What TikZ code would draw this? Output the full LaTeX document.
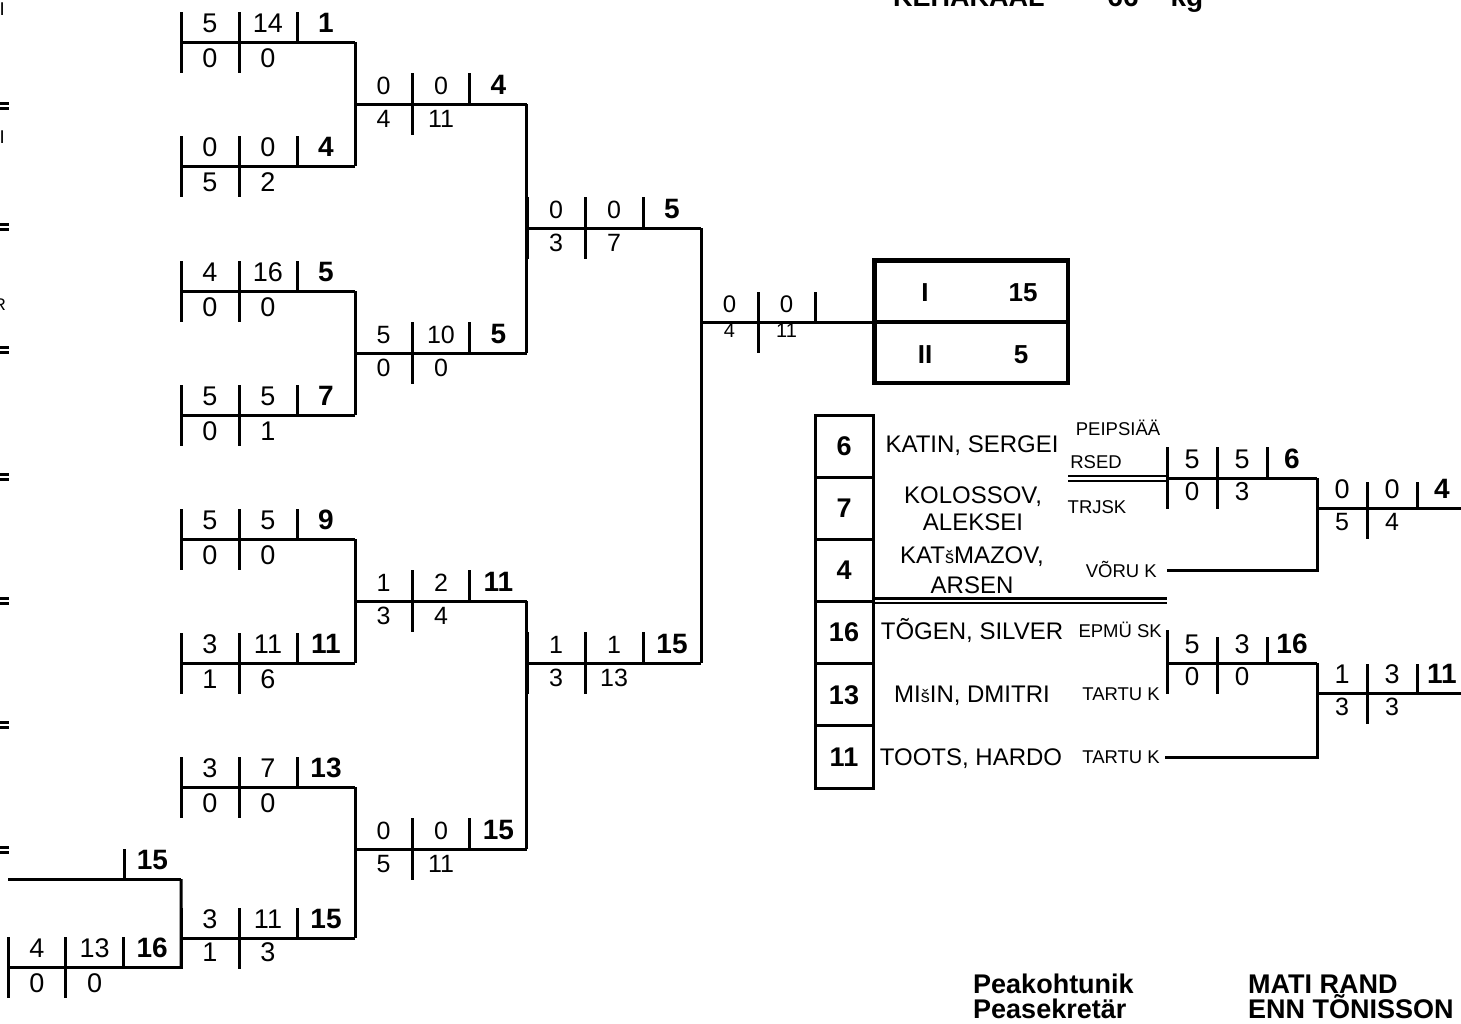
\documentclass[tikz,border=0pt]{standalone}
\usepackage{fontspec}
\setmainfont{Liberation Sans}
\def\ScSize{24}\def\LowSize{24}\def\LowOff{25}\def\TickUp{30}
\newcommand{\ScoreBox}[9]{%
  \coordinate (#1L) at (#2,#3);
  \coordinate (#1R) at ({#2+3*#4},#3);
  \draw[ln] (#1L) -- (#1R);
  \draw[ln] (#2,{#3-\TickUp}) -- (#2,{#3+31});
  \draw[ln] ({#2+#4},{#3-\TickUp}) -- ({#2+#4},{#3+31});
  \draw[ln] ({#2+2*#4},{#3-\TickUp}) -- ({#2+2*#4},#3);
  \node[sc] (#1a) at ({#2+0.5*#4},{#3-10}) {#5};
  \node[sc] (#1b) at ({#2+1.5*#4},{#3-10}) {#6};
  \node[sd] (#1s) at ({#2+2.5*#4},{#3-10}) {#7};
  \node[sl] (#1c) at ({#2+0.5*#4},{#3+\LowOff}) {#8};
  \node[sl] (#1d) at ({#2+1.5*#4},{#3+\LowOff}) {#9};
}
\tikzset{
  ln/.style={line width=3pt},
  dbl/.style={line width=2.2pt},
  sc/.style={font=\fontsize{\ScSize}{\ScSize}\selectfont, anchor=base, inner sep=0pt},
  sl/.style={font=\fontsize{\LowSize}{\LowSize}\selectfont, anchor=base, inner sep=0pt},
  sd/.style={font=\bfseries\fontsize{28}{28}\selectfont, anchor=base, inner sep=0pt},
  nm/.style={font=\fontsize{24}{24}\selectfont, anchor=base, inner sep=0pt},
  cl/.style={font=\fontsize{18.5}{18.5}\selectfont, anchor=base, inner sep=0pt},
  seedcell/.style={draw, line width=3pt, minimum width=58pt, minimum height=62.17pt, inner sep=0pt, font=\bfseries\fontsize{27}{27}\selectfont},
  fin/.style={font=\bfseries\fontsize{26}{26}\selectfont, anchor=base, inner sep=0pt},
  hd/.style={font=\bfseries\fontsize{27}{27}\selectfont, anchor=base west, inner sep=0pt},
}
\begin{document}
\begin{tikzpicture}[x=1pt,y=-1pt]
\useasboundingbox (0,0) rectangle (1461,1023);
\fill[white] (0,0) rectangle (1461,1023);

% header (cut off at top)
\node[hd] (kh) at (893,6) {KEHAKAAL};
\node[sd] (kn) at (1123,6) {66};
\node[sd] (kg) at (1187,6) {kg};

% left edge fragments
\foreach \yy in {106,227,350,477,601,725,850}{
  \draw[dbl] (0,\yy-2.5) -- (9,\yy-2.5);
  \draw[dbl] (0,\yy+2.5) -- (9,\yy+2.5);
}
\node[cl, anchor=base east] (f1) at (5,15) {I};
\node[cl, anchor=base east] (f2) at (5,143) {I};
\node[cl, anchor=base east, font=\fontsize{17}{17}\selectfont] (f3) at (6,310) {R};

% column A
\def\ScSize{27}\def\LowSize{27}\def\LowOff{25}\def\TickUp{30}
\ScoreBox{A1}{181}{42}{58}{5}{14}{1}{0}{0}
\ScoreBox{A2}{181}{166}{58}{0}{0}{4}{5}{2}
\ScoreBox{A3}{181}{291}{58}{4}{16}{5}{0}{0}
\ScoreBox{A4}{181}{415}{58}{5}{5}{7}{0}{1}
\ScoreBox{A5}{181}{539}{58}{5}{5}{9}{0}{0}
\ScoreBox{A6}{181}{663}{58}{3}{11}{11}{1}{6}
\ScoreBox{A7}{181}{787}{58}{3}{7}{13}{0}{0}
\ScoreBox{P2}{8}{967}{57.7}{4}{13}{16}{0}{0}
\def\LowOff{23}
\ScoreBox{A8}{181}{938}{58}{3}{11}{15}{1}{3}

% partial line with seed 15
\coordinate (P1L) at (8,879);
\coordinate (P1R) at (181,879);
\draw[ln] (P1L) -- (P1R);
\draw[ln] (124,849) -- (124,879);
\node[sd] (P1s) at (152.5,869) {15};

\draw[ln] (P1R) -- (P2R);
\draw[ln] (A1R) -- (A2R);
\draw[ln] (A3R) -- (A4R);
\draw[ln] (A5R) -- (A6R);
\draw[ln] (A7R) -- (A8R);

% column B
\def\ScSize{25}\def\LowSize{25}\def\LowOff{23}\def\TickUp{31}
\ScoreBox{B1}{355}{104}{57.33}{0}{0}{4}{4}{11}
\ScoreBox{B2}{355}{353}{57.33}{5}{10}{5}{0}{0}
\ScoreBox{B3}{355}{601}{57.33}{1}{2}{11}{3}{4}
\ScoreBox{B4}{355}{849}{57.33}{0}{0}{15}{5}{11}
\draw[ln] (B1R) -- (B2R);
\draw[ln] (B3R) -- (B4R);

% column C
\ScoreBox{C1}{527}{228}{58}{0}{0}{5}{3}{7}
\ScoreBox{C2}{527}{663}{58}{1}{1}{15}{3}{13}
\draw[ln] (C1R) -- (C2R);

% final match
\def\ScSize{24}\def\LowSize{20}\def\LowOff{15}\def\TickUp{30}
\ScoreBox{D}{701}{322}{57}{0}{0}{}{4}{11}

% result box
\node[draw, line width=4.5pt, minimum width=193.5pt, minimum height=122.5pt, inner sep=0pt] (res) at (971.25,321.75) {};
\draw[line width=4.5pt] (res.west) -- (res.east);
\node[fin] (r1) at (925,301) {I};
\node[fin] (r1v) at (1023,301) {15};
\node[fin] (r2) at (925,363) {II};
\node[fin] (r2v) at (1021,363) {5};

% seed table
\foreach \s [count=\i] in {6,7,4,16,13,11}{
  \node[seedcell] (seed\i) at (844,{415+31.08+(\i-1)*62.17}) {\s};
}
\node[nm] (n1) at (972,452) {KATIN, SERGEI};
\node[nm] (n2a) at (973,503) {KOLOSSOV,};
\node[nm] (n2b) at (973,530) {ALEKSEI};
\node[nm] (n3a) at (972,563) {KAT{\fontsize{18}{18}\selectfont š}MAZOV,};
\node[nm] (n3b) at (972,593) {ARSEN};
\node[nm] (n4) at (972,639) {TÕGEN, SILVER};
\node[nm] (n5) at (972,702) {MI{\fontsize{18}{18}\selectfont š}IN, DMITRI};
\node[nm] (n6) at (971,765) {TOOTS, HARDO};

\node[cl] (c1a) at (1118,435) {PEIPSIÄÄ};
\node[cl] (c1b) at (1096,468) {RSED};
\node[cl] (c2) at (1097,513) {TRJSK};
\node[cl, anchor=base east] (c3) at (1157,577) {VÕRU K};
\node[cl, anchor=base east] (c4) at (1162,637) {EPMÜ SK};
\node[cl, anchor=base east] (c5) at (1160,700) {TARTU K};
\node[cl, anchor=base east] (c6) at (1160,763) {TARTU K};

% double lines
\coordinate (dl1a) at (1068,476.3); \coordinate (dl1b) at (1167,476.3);
\coordinate (dl2a) at (1068,481);   \coordinate (dl2b) at (1167,481);
\draw[dbl] (dl1a) -- (dl1b);
\draw[dbl] (dl2a) -- (dl2b);
\coordinate (dl3a) at (873,598.5); \coordinate (dl3b) at (1167,598.5);
\coordinate (dl4a) at (873,603.3); \coordinate (dl4b) at (1167,603.3);
\draw[dbl] (dl3a) -- (dl3b);
\draw[dbl] (dl4a) -- (dl4b);

% right bracket
\def\ScSize{27}\def\LowSize{26}\def\LowOff{22}\def\TickUp{31}
\ScoreBox{R1}{1167}{478}{50}{5}{5}{6}{0}{3}
\def\TickUp{26}\def\LowSize{25}
\ScoreBox{R2}{1317}{508}{50}{0}{0}{4}{5}{4}
\def\LowSize{26}
\ScoreBox{R3}{1167}{663}{50}{5}{3}{16}{0}{0}
\draw[ln] (1167,630) -- (R3L);
\def\TickUp{29}\def\LowSize{25}
\ScoreBox{R4}{1317}{693}{50}{1}{3}{11}{3}{3}

\coordinate (vkL) at (1167,570);
\draw[ln] (vkL) -| (R1R);
\coordinate (tkL) at (1165,757);
\draw[ln] (tkL) -| (R3R);

% footer
\node[hd] (pk) at (973,993) {Peakohtunik};
\node[hd] (ps) at (973,1018) {Peasekretär};
\node[hd] (mr) at (1248,993) {MATI RAND};
\node[hd] (et) at (1248,1018) {ENN TÕNISSON};
\end{tikzpicture}
\end{document}
